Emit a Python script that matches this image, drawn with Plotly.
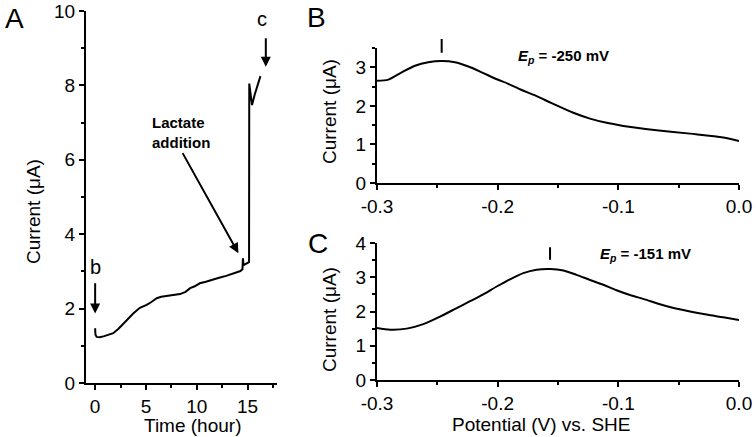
import plotly.graph_objects as go

# ---- Panel A: current vs time ----
time_h = [0.0, 0.03, 0.15, 0.46, 0.9, 1.3, 1.78, 2.3, 2.8, 3.43, 3.75, 4.4, 4.8, 5.07, 5.5,
          6.06, 6.5, 7.05, 7.7, 8.35, 8.9, 9.35, 9.8, 10.3, 10.9, 11.6, 12.2, 12.9, 13.6,
          14.3, 14.5, 14.55, 14.6, 15.0, 15.15, 15.17, 15.25, 15.44, 15.7, 16.27]
current_a = [1.47, 1.3, 1.24, 1.23, 1.26, 1.29, 1.34, 1.46, 1.6, 1.78, 1.87, 2.02, 2.06, 2.1,
             2.17, 2.28, 2.32, 2.34, 2.35, 2.39, 2.45, 2.55, 2.6, 2.68, 2.72, 2.79, 2.83,
             2.88, 2.94, 3.01, 3.06, 3.35, 3.17, 3.22, 3.25, 8.05, 7.9, 7.47, 7.75, 8.25]

# ---- Panel B: voltammogram, Ep = -250 mV ----
pot_b = [-0.3, -0.2906, -0.2795, -0.2685, -0.2575, -0.2464, -0.2354, -0.2243, -0.2132,
         -0.2022, -0.1912, -0.1801, -0.169, -0.1552, -0.1373, -0.1235, -0.1097, -0.0959,
         -0.0683, -0.0406, -0.013, 0.0]
cur_b = [2.65, 2.68, 2.87, 3.04, 3.13, 3.16, 3.13, 3.02, 2.87,
         2.71, 2.57, 2.41, 2.27, 2.07, 1.82, 1.67, 1.56, 1.48,
         1.37, 1.28, 1.18, 1.09]

# ---- Panel C: voltammogram, Ep = -151 mV ----
pot_c = [-0.3, -0.289, -0.2754, -0.2616, -0.2478, -0.234, -0.2229, -0.2119, -0.2008, -0.1898,
         -0.1788, -0.1677, -0.1566, -0.1456, -0.1346, -0.1235, -0.1125, -0.1015, -0.0903,
         -0.0765, -0.0683, -0.055, -0.0406, -0.027, -0.013, 0.0]
cur_c = [1.52, 1.47, 1.5, 1.63, 1.85, 2.1, 2.3, 2.5, 2.73, 2.94,
         3.12, 3.22, 3.24, 3.2, 3.07, 2.92, 2.78, 2.62, 2.48,
         2.34, 2.24, 2.11, 2.0, 1.91, 1.83, 1.75]

# peak markers (x, bottom, top)
peak_b = (-0.2464, 3.38, 3.77)
peak_c = (-0.1566, 3.51, 3.92)

pot_ticks = [-0.3, -0.2, -0.1, 0.0]
pot_ticktext = ["-0.3", "-0.2", "-0.1", "0.0"]

FONT = "Arial, Liberation Sans, sans-serif"
W, H = 756, 437
TICK_SIZE = 19
TITLE_SIZE = 19


def px(x):
    return x / W


def py(y):
    return 1 - y / H


fig = go.Figure()
fig.add_trace(go.Scatter(x=time_h, y=current_a, mode="lines", line=dict(color="black", width=2),
                         xaxis="x", yaxis="y"))
fig.add_trace(go.Scatter(x=pot_b, y=cur_b, mode="lines",
                         line=dict(color="black", width=2, shape="spline", smoothing=0.8),
                         xaxis="x2", yaxis="y2"))
fig.add_trace(go.Scatter(x=pot_c, y=cur_c, mode="lines",
                         line=dict(color="black", width=2, shape="spline", smoothing=0.8),
                         xaxis="x3", yaxis="y3"))

minor_common = dict(ticks="outside", ticklen=3, tickwidth=2, tickcolor="black")
ax_common = dict(showline=True, linecolor="black", linewidth=2, ticks="outside", ticklen=5,
                 tickwidth=2, tickcolor="black", showgrid=False, zeroline=False,
                 ticklabeloverflow="allow",
                 tickfont=dict(family=FONT, size=TICK_SIZE, color="black"))

fig.update_layout(
    width=W, height=H, margin=dict(l=0, r=0, t=0, b=0, autoexpand=False),
    paper_bgcolor="white", plot_bgcolor="white", showlegend=False,
    font=dict(family=FONT, color="black"),
    xaxis=dict(ax_common, domain=[px(86), px(277)], range=[-0.9, 17.9], dtick=5, tick0=0,
               minor=dict(minor_common, dtick=2.5), anchor="y"),
    yaxis=dict(ax_common, domain=[py(383), py(11)], range=[0, 10], dtick=2, tick0=0,
               minor=dict(minor_common, dtick=1), anchor="x"),
    xaxis2=dict(ax_common, domain=[px(377), px(739)], range=[-0.3, 0.0], tickvals=pot_ticks,
                ticktext=pot_ticktext, minor=dict(minor_common, dtick=0.05, tick0=0), anchor="y2"),
    yaxis2=dict(ax_common, domain=[py(183), py(48)], range=[0, 3.5], dtick=1, tick0=0,
                minor=dict(minor_common, dtick=0.5), anchor="x2"),
    xaxis3=dict(ax_common, domain=[px(377), px(739)], range=[-0.3, 0.0], tickvals=pot_ticks,
                ticktext=pot_ticktext, minor=dict(minor_common, dtick=0.05, tick0=0), anchor="y3"),
    yaxis3=dict(ax_common, domain=[py(380), py(243)], range=[0, 4], dtick=1, tick0=0,
                minor=dict(minor_common, dtick=0.5), anchor="x3"),
)

ann = []


def text_px(x, y, text, size, bold=False, angle=0):
    if bold:
        text = "<b>" + text + "</b>"
    ann.append(dict(x=px(x), y=py(y), xref="paper", yref="paper", text=text, showarrow=False,
                    xanchor="center", yanchor="middle", textangle=angle,
                    font=dict(family=FONT, size=size, color="black")))


# panel letters
text_px(14, 19, "A", 28)
text_px(316, 18, "B", 28)
text_px(318, 243, "C", 28)
# axis titles
text_px(33, 212, "Current (μA)", TITLE_SIZE, angle=-90)
text_px(192, 425, "Time (hour)", TITLE_SIZE)
text_px(329, 112, "Current (μA)", TITLE_SIZE, angle=-90)
text_px(329, 320, "Current (μA)", TITLE_SIZE, angle=-90)
text_px(541, 424, "Potential (V) vs. SHE", TITLE_SIZE)
# Ep labels
text_px(563, 56, "<i>E</i><sub><i>p</i></sub> = -250 mV", 15, bold=True)
text_px(645, 254, "<i>E</i><sub><i>p</i></sub> = -151 mV", 15, bold=True)
# Lactate addition
ann.append(dict(x=px(181), y=py(132), xref="paper", yref="paper", xanchor="center",
                yanchor="middle", text="<b>Lactate<br>addition</b>", showarrow=False,
                align="left", font=dict(family=FONT, size=15, color="black")))
# b and c labels
ann.append(dict(x=0, y=3.12, xref="x", yref="y", text="b", showarrow=False,
                font=dict(family=FONT, size=20, color="black")))
ann.append(dict(x=16.4, y=9.78, xref="x", yref="y", text="c", showarrow=False,
                font=dict(family=FONT, size=20, color="black")))
# arrows
arrow = dict(text="", showarrow=True, arrowhead=2, arrowsize=1, arrowwidth=2, arrowcolor="black",
             xref="x", yref="y", axref="x", ayref="y")
ann.append(dict(arrow, x=0, y=1.87, ax=0, ay=2.72))
ann.append(dict(arrow, x=16.8, y=8.5, ax=16.8, ay=9.31))
ann.append(dict(arrow, x=14.1, y=3.49, ax=8.53, ay=6.22))
# peak ticks
tick = dict(text="", showarrow=True, arrowhead=0, arrowwidth=2, arrowcolor="black",
            standoff=0, startstandoff=0)
ann.append(dict(tick, x=peak_b[0], y=peak_b[1], ax=peak_b[0], ay=peak_b[2],
                xref="x2", yref="y2", axref="x2", ayref="y2"))
ann.append(dict(tick, x=peak_c[0], y=peak_c[1], ax=peak_c[0], ay=peak_c[2],
                xref="x3", yref="y3", axref="x3", ayref="y3"))

fig.update_layout(annotations=ann)
fig.write_html("out.html", config={"displayModeBar": False},
               post_script="document.body.style.margin='0px';")
